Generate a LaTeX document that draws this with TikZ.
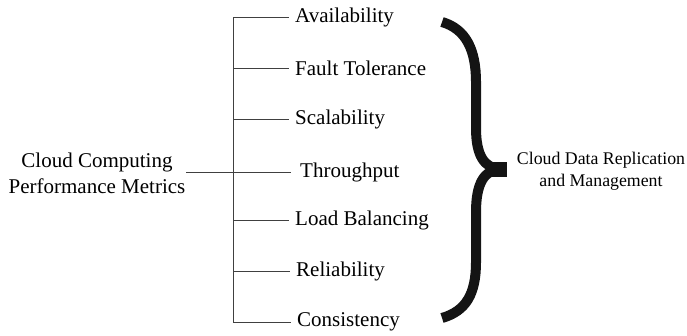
\documentclass[tikz,border=0pt]{standalone}
\usepackage{fontspec}
\setmainfont{Liberation Serif}
\begin{document}
\begin{tikzpicture}[x=1pt,y=-1pt,
  metric/.style={anchor=west,inner sep=0pt,font=\fontsize{21}{25}\selectfont},
  tree/.style={draw=black!75,line width=1pt},
  brace/.style={draw=black!92,line width=10pt,line cap=butt,line join=round}]
\useasboundingbox (0,0) rectangle (687,335);

% root label on the left
\node[align=center,font=\fontsize{21}{26}\selectfont,inner sep=0pt] (root) at (97,173) {Cloud Computing\\Performance Metrics};
\coordinate (rootend) at (186,172);

% spine of the tree
\coordinate (top) at (233,17);
\coordinate (bot) at (233,322);

% the seven metrics
\node[metric] (m1) at (295,17)  {Availability};
\node[metric] (m2) at (295,68)  {Fault Tolerance};
\node[metric] (m3) at (295,119) {Scalability};
\node[metric] (m4) at (300,172) {Throughput};
\node[metric] (m5) at (295,220) {Load Balancing};
\node[metric] (m6) at (296,271) {Reliability};
\node[metric] (m7) at (297,322) {Consistency};

\draw[tree] (top) -- (bot);
\draw[tree] (rootend) -- ([xshift=-9pt]m4.west);
\foreach \i in {1,2,3,5,6,7}
  \draw[tree] (233,0 |- m\i.west) -- ([xshift=-6pt]m\i.west);

% the large curly brace
\draw[brace] (442,22) .. controls (466,29) and (476,50) .. (476,82)
  -- (476,128) .. controls (476,155) and (484,168) .. (500,169);
\draw[brace] (500,169) .. controls (484,170) and (476,184) .. (476,212)
  -- (476,262) .. controls (476,294) and (466,311) .. (442,318);
\fill[black!92] (490,162) rectangle (507,177);

% the label on the right
\node[align=center,font=\fontsize{17.8}{22}\selectfont,inner sep=0pt] (rep) at (601,171) {Cloud Data Replication\\and Management};
\end{tikzpicture}
\end{document}
